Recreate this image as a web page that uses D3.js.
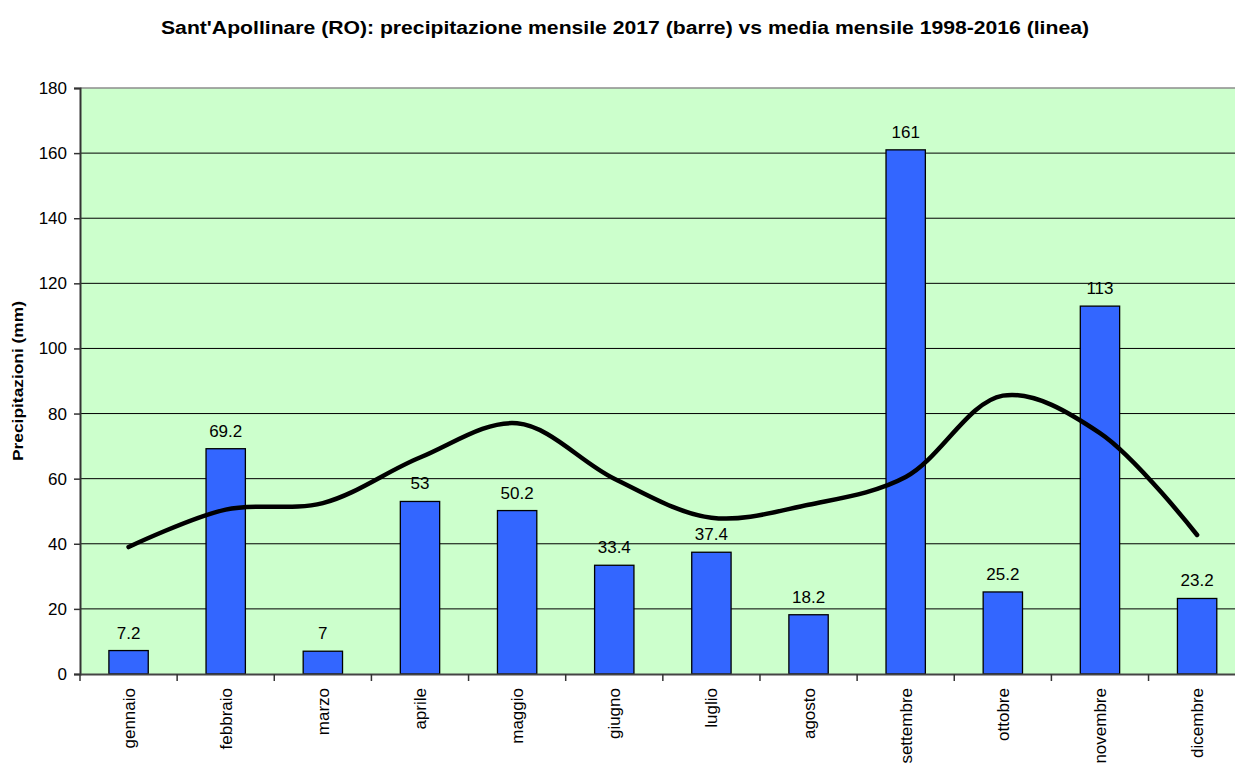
<!DOCTYPE html>
<html>
<head>
<meta charset="utf-8">
<script src="https://cdn.jsdelivr.net/npm/d3@7"></script>
<style>
  html, body { margin: 0; padding: 0; background: #ffffff; overflow: hidden; }
  svg { display: block; font-family: "Liberation Sans", Arial, sans-serif; }
</style>
</head>
<body>
<svg id="chart" width="1235" height="763"></svg>
<script>
// Monthly rainfall 2017 (bars) and 1998-2016 monthly mean (line), Sant'Apollinare (RO)
const months = ["gennaio", "febbraio", "marzo", "aprile", "maggio", "giugno",
                "luglio", "agosto", "settembre", "ottobre", "novembre", "dicembre"];
const rain2017 = [7.2, 69.2, 7, 53, 50.2, 33.4, 37.4, 18.2, 161, 25.2, 113, 23.2];
const mean1998_2016 = [39, 50.5, 52.5, 66.5, 77, 60, 48, 52, 60.5, 85.5, 74, 42.7];
const yTicks = [0, 20, 40, 60, 80, 100, 120, 140, 160, 180];

const svg = d3.select("#chart");
const plotLeft = 80, plotTop = 88, plotBottom = 674;
const band = 97.14;
const plotRight = plotLeft + band * months.length;

const x = d3.scaleBand().domain(months).range([plotLeft, plotRight]).paddingInner(0).paddingOuter(0);
const y = d3.scaleLinear().domain([0, 180]).range([plotBottom, plotTop]);

// plot background
svg.append("rect")
  .attr("x", plotLeft).attr("y", plotTop)
  .attr("width", plotRight - plotLeft).attr("height", plotBottom - plotTop)
  .attr("fill", "#ccffcc");

// horizontal gridlines
svg.append("g").selectAll("line")
  .data(yTicks.filter(d => d > 0 && d < 180))
  .join("line")
  .attr("x1", plotLeft).attr("x2", plotRight)
  .attr("y1", d => y(d)).attr("y2", d => y(d))
  .attr("stroke", "#000").attr("stroke-width", 1);

// top border
svg.append("line")
  .attr("x1", plotLeft).attr("x2", plotRight)
  .attr("y1", y(180)).attr("y2", y(180))
  .attr("stroke", "#8c8c8c").attr("stroke-width", 1.5);

// bars
const barW = band * 0.405;
svg.append("g").selectAll("rect")
  .data(months.map((m, i) => ({ m, v: rain2017[i] })))
  .join("rect")
  .attr("x", d => x(d.m) + band / 2 - barW / 2)
  .attr("y", d => y(d.v))
  .attr("width", barW)
  .attr("height", d => plotBottom - y(d.v))
  .attr("fill", "#3366ff")
  .attr("stroke", "#000")
  .attr("stroke-width", 1.3);

// value labels
svg.append("g").selectAll("text")
  .data(months.map((m, i) => ({ m, v: rain2017[i] })))
  .join("text")
  .attr("x", d => x(d.m) + band / 2)
  .attr("y", d => y(d.v) - 12)
  .attr("text-anchor", "middle")
  .attr("font-size", 17)
  .attr("fill", "#000")
  .text(d => String(d.v));

// mean line (smoothed)
const line = d3.line()
  .x((d, i) => x(months[i]) + band / 2)
  .y(d => y(d))
  .curve(d3.curveCatmullRom.alpha(0.5));
svg.append("path")
  .datum(mean1998_2016)
  .attr("d", line)
  .attr("fill", "none")
  .attr("stroke", "#000")
  .attr("stroke-width", 4.5)
  .attr("stroke-linecap", "round")
  .attr("stroke-linejoin", "round");

// y axis
const yAxis = d3.axisLeft(y).tickValues(yTicks).tickSize(6).tickPadding(7).tickFormat(d3.format("d"));
const gy = svg.append("g").attr("transform", `translate(${plotLeft},0)`).call(yAxis);
gy.select(".domain").attr("stroke", "#333").attr("stroke-width", 2);
gy.selectAll(".tick line").attr("stroke", "#333").attr("stroke-width", 1.5);
gy.selectAll(".tick text").attr("font-size", 17).attr("fill", "#000")
  .attr("font-family", "Liberation Sans, Arial, sans-serif");

// x axis
const xAxis = d3.axisBottom(x).tickSize(0).tickPadding(0);
const gx = svg.append("g").attr("transform", `translate(0,${plotBottom})`).call(xAxis);
gx.select(".domain").attr("stroke", "#444").attr("stroke-width", 2);
gx.selectAll(".tick text")
  .attr("font-size", 17).attr("fill", "#000")
  .attr("font-family", "Liberation Sans, Arial, sans-serif")
  .attr("transform", "rotate(-90)")
  .attr("text-anchor", "end")
  .attr("dy", "0.35em")
  .attr("x", -14)
  .attr("y", 0);
// category separators
svg.append("g").selectAll("line")
  .data(d3.range(months.length + 1))
  .join("line")
  .attr("x1", i => plotLeft + i * band).attr("x2", i => plotLeft + i * band)
  .attr("y1", plotBottom).attr("y2", plotBottom + 7)
  .attr("stroke", "#333").attr("stroke-width", 1.5);

// axis title
svg.append("text")
  .attr("transform", `translate(23,${(plotTop + plotBottom) / 2}) rotate(-90)`)
  .attr("text-anchor", "middle")
  .attr("font-size", 15)
  .attr("font-weight", "bold")
  .attr("textLength", 160)
  .attr("lengthAdjust", "spacingAndGlyphs")
  .text("Precipitazioni (mm)");

// chart title
svg.append("text")
  .attr("x", 625).attr("y", 34)
  .attr("text-anchor", "middle")
  .attr("font-size", 18)
  .attr("font-weight", "bold")
  .attr("textLength", 928)
  .attr("lengthAdjust", "spacingAndGlyphs")
  .text("Sant'Apollinare (RO): precipitazione mensile 2017 (barre) vs media mensile 1998-2016 (linea)");
</script>
</body>
</html>
